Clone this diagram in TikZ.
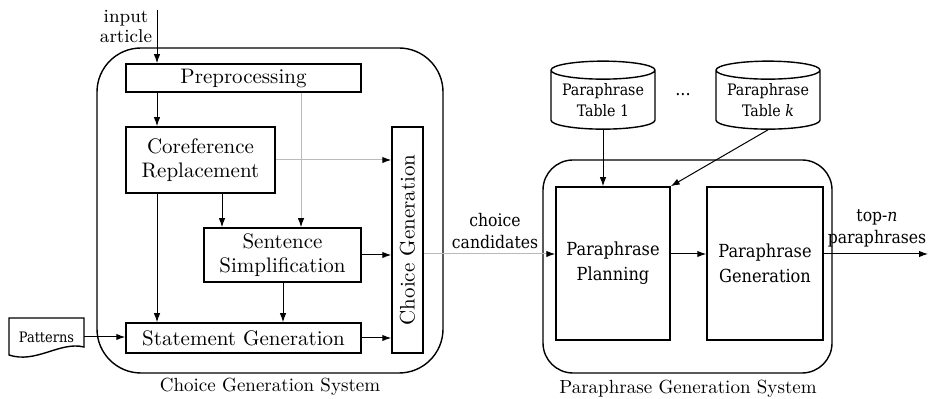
\documentclass[tikz,border=0pt]{standalone}
\usepackage{fontspec}
\newfontfamily\tnr{DejaVu Serif Condensed}
\usetikzlibrary{shapes.geometric,arrows.meta,calc}

\begin{document}
\begin{tikzpicture}[x=0.5pt,y=-0.5pt,
  box/.style={draw,line width=0.75pt,inner sep=0pt,align=center,
    font=\fontsize{10.5}{12.2}\selectfont},
  pbox/.style={draw,line width=0.75pt,inner sep=0pt,align=center,
    font=\tnr\fontsize{9}{12.5}\selectfont},
  db/.style={cylinder,shape border rotate=90,aspect=0.22,draw,line width=0.7pt,
    minimum width=52pt,minimum height=34pt,inner sep=0pt,align=center,
    font=\tnr\fontsize{7.9}{10.2}\selectfont},
  frame/.style={draw,line width=0.7pt},
  tlabel/.style={align=center,inner sep=0pt,font=\tnr\fontsize{8.7}{11}\selectfont},
  arr/.style={-{Latex[length=4.5pt,width=3.2pt]},line width=0.5pt},
  garr/.style={-{Latex[length=4.5pt,width=3.2pt,color=black]},line width=0.5pt,draw=gray!55},
]
\useasboundingbox (0,0) rectangle (929,399);

% system frames
\draw[frame,rounded corners=22pt] (97,48) rectangle (443,373);
\draw[frame,rounded corners=15pt] (543,160) rectangle (832,373);

% choice generation system
\node[box,minimum width=117.5pt,minimum height=14pt] (pre) at (243.5,78) {Preprocessing};
\node[box,minimum width=74.5pt,minimum height=33pt] (coref) at (200.5,160) {Coreference\\Replacement};
\node[box,minimum width=78.5pt,minimum height=27pt] (simp) at (282.5,255) {Sentence\\Simplification};
\node[box,minimum width=117.5pt,minimum height=15pt] (stmt) at (243.5,338) {Statement Generation};
\node[box,minimum width=15.5pt,minimum height=113pt] (cg) at (407.5,240) {};
\node[rotate=90,inner sep=0pt,font=\fontsize{10.5}{12}\selectfont] (cgtext) at (cg.center) {Choice Generation};

\node[align=center,inner sep=0pt,font=\fontsize{9.3}{10}\selectfont] (input) at (126,27) {input\\article};
\node[inner sep=0pt,minimum width=37.5pt,minimum height=20pt,font=\tnr\fontsize{7.2}{9}\selectfont] (pat) at (46.5,337) {Patterns};
\draw[line width=0.7pt] (9,318) -- (84,318) -- (84,347)
  .. controls (60,341) and (36,364) .. (9,355) -- cycle;

\node[font=\fontsize{9.5}{11}\selectfont] (cgs) at (270,387) {Choice Generation System};

% paraphrase generation system
\node[db] (t1) at (603,100) {Paraphrase\\Table 1};
\node[db] (tk) at (768,100) {Paraphrase\\Table \textit{k}};
\node[font=\tnr\fontsize{9}{12}\selectfont] (dots) at (683,95) {...};
\node[pbox,minimum width=57pt,minimum height=76.5pt] (plan) at (613,263.5) {Paraphrase\\Planning};
\node[pbox,minimum width=58pt,minimum height=76.5pt] (gen) at (765,263.5) {Paraphrase\\Generation};
\node[font=\fontsize{9.5}{11}\selectfont] (pgs) at (688,389) {Paraphrase Generation System};

\node[tlabel] (cc) at (495,231) {choice\\candidates};
\node[tlabel] (topn) at (877,228) {top-\textit{n}\\paraphrases};

% helper coordinates for connector positions
\coordinate (inp) at (157,10);
\coordinate (xa) at (301,0);
\coordinate (xb) at (222,0);
\coordinate (xc) at (283,0);
\coordinate (flow) at (0,254);
\coordinate (out) at (928,254);

% connectors
\draw[arr] (inp) -- (inp |- pre.north);
\draw[arr] (pre.south -| inp) -- (coref.north -| inp);
\draw[garr] (pre.south -| xa) -- (simp.north -| xa);
\draw[arr] (coref.south -| inp) -- (stmt.north -| inp);
\draw[arr] (coref.south -| xb) -- (simp.north -| xb);
\draw[arr] (simp.south -| xc) -- (stmt.north -| xc);
\draw[garr] (coref.east) -- (coref.east -| cg.west);
\draw[arr] (simp.east) -- (simp.east -| cg.west);
\draw[arr] (stmt.east) -- (stmt.east -| cg.west);
\draw[arr] (pat.east) -- (pat.east -| stmt.west);
\draw[garr] (cg.east |- flow) -- (plan.west |- flow);
\draw[arr] (plan.east |- flow) -- (gen.west |- flow);
\draw[arr] (gen.east |- flow) -- (out);
\draw[arr] (t1.south) -- (t1.south |- plan.north);
\draw[arr] (tk.south) -- (plan.north east);
\end{tikzpicture}
\end{document}
